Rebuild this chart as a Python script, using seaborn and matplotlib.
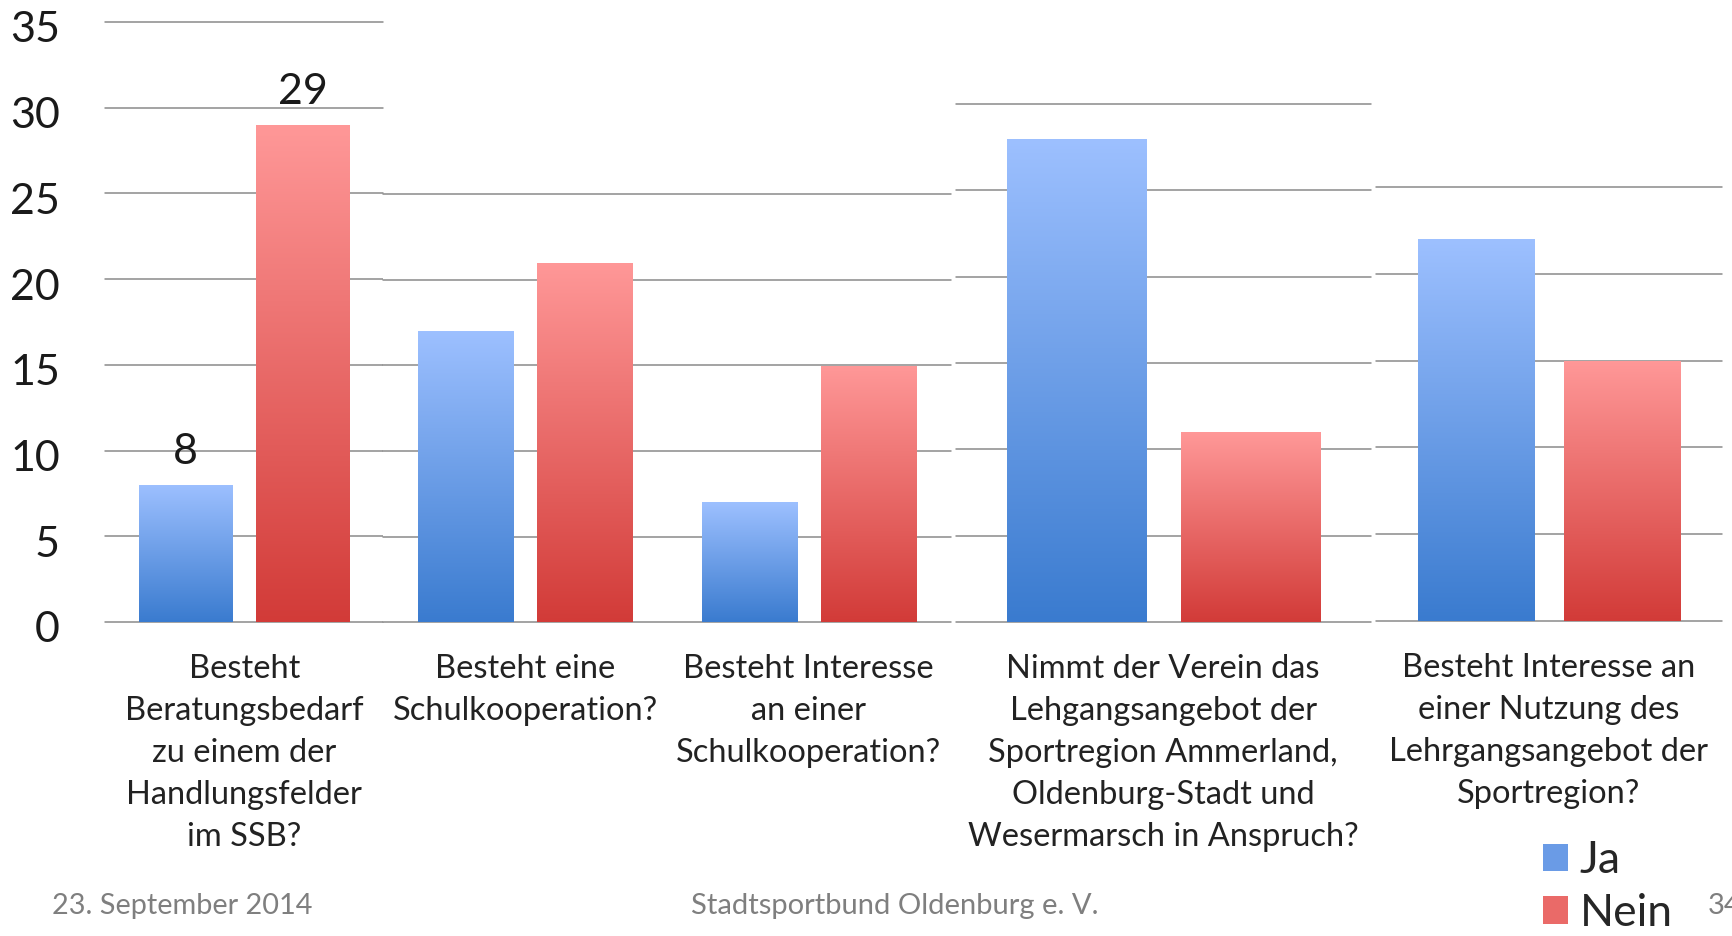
import numpy as np
import pandas as pd
import matplotlib
matplotlib.use("Agg")
import matplotlib.pyplot as plt
import matplotlib.transforms as mtrans
from matplotlib.colors import LinearSegmentedColormap
from matplotlib.patches import Patch
import seaborn as sns

fragen = [
    "Besteht\nBeratungsbedarf\nzu einem der\nHandlungsfelder\nim SSB?",
    "Besteht eine\nSchulkooperation?",
    "Besteht Interesse\nan einer\nSchulkooperation?",
    "Nimmt der Verein das\nLehgangsangebot der\nSportregion Ammerland,\nOldenburg-Stadt und\nWesermarsch in Anspruch?",
    "Besteht Interesse an\neiner Nutzung des\nLehrgangsangebot der\nSportregion?",
]
ja = [8, 17, 7, 28, 22]
nein = [29, 21, 15, 11, 15]
antworten = ["Ja", "Nein"]

# die Folie ist aus 4 Diagrammstuecken zusammengeklebt
panels = [[0], [1, 2], [3], [4]]
y_max = [35, 25, 30, 25]
mit_zahlen = [True, False, False, False]

df = pd.DataFrame({
    "frage": fragen * 2,
    "antwort": ["Ja"] * len(fragen) + ["Nein"] * len(fragen),
    "anzahl": ja + nein,
})

farben = {"Ja": "#6a9be6", "Nein": "#ea6a68"}
verlauf = {
    "Ja": LinearSegmentedColormap.from_list("ja", ["#3a7bcf", "#9dc0ff"]),
    "Nein": LinearSegmentedColormap.from_list("nein", ["#d23b38", "#ff9898"]),
}

sns.set_style("white")
plt.rcParams["font.family"] = ["Lato", "DejaVu Sans"]

W, H = 1733, 936
fig = plt.figure(figsize=(W / 100, H / 100), dpi=100)

# Pixelrahmen der einzelnen Stuecke (links, rechts, oben, unten)
rahmen = [(105, 383.5, 22, 622), (383.5, 950.5, 194.5, 622),
          (956, 1370.5, 104, 622), (1376, 1722, 187, 621)]

for i, idx in enumerate(panels):
    l, r, t, b = rahmen[i]
    ax = fig.add_axes([l / W, 1 - b / H, (r - l) / W, (b - t) / H])
    sub = df[df["frage"].isin([fragen[k] for k in idx])]
    sns.barplot(data=sub, x="frage", y="anzahl", hue="antwort",
                order=[fragen[k] for k in idx], hue_order=antworten,
                palette=farben, width=0.84, gap=0.2, errorbar=None,
                legend=False, ax=ax)
    ax.set_xlim(-0.5, len(idx) - 0.5)
    ax.set_ylim(0, y_max[i])
    ax.set_yticks(np.arange(0, y_max[i] + 1, 5))
    ax.grid(axis="y", color="#8a8a8a", lw=1.1)
    ax.set_axisbelow(True)
    for g in ax.get_ygridlines():
        g.set_clip_on(False)
    sns.despine(ax=ax, left=True, bottom=True)
    ax.set_xlabel("")
    ax.set_ylabel("")
    ax.tick_params(axis="x", length=0, pad=23, labelsize=23.5, labelcolor="#222222")
    for lab in ax.get_xticklabels():
        lab.set_linespacing(1.5)
    if i == 0:
        ax.tick_params(axis="y", length=0, pad=32.5, labelsize=31, labelcolor="#1a1a1a")
        schub = mtrans.ScaledTranslation(0, -5 / 100, fig.dpi_scale_trans)
        for lab in ax.get_yticklabels():
            lab.set_transform(lab.get_transform() + schub)
    else:
        ax.tick_params(axis="y", length=0, labelleft=False)

    # Farbverlauf in den Balken
    for k, cont in enumerate(ax.containers):
        cmap = verlauf[antworten[k]]
        for p in cont:
            x0, w, h = p.get_x(), p.get_width(), p.get_height()
            im = ax.imshow(np.linspace(1, 0, 256).reshape(-1, 1), cmap=cmap,
                           extent=[x0, x0 + w, 0, h], aspect="auto",
                           origin="upper", zorder=2)
            im.set_clip_path(p)
            p.set_facecolor("none")
            p.set_edgecolor("none")
        if mit_zahlen[i]:
            ax.bar_label(cont, fmt="%g", padding=10, fontsize=31, color="#1a1a1a")
    ax.set_xlim(-0.5, len(idx) - 0.5)
    ax.set_ylim(0, y_max[i])

# Legende
handles = [Patch(facecolor=farben[a], edgecolor="none") for a in antworten]
fig.legend(handles, antworten, loc="upper left",
           bbox_to_anchor=(1543 / W, 1 - 840 / H), frameon=False,
           fontsize=32, handlelength=0.57, handleheight=0.57,
           handletextpad=0.25, labelspacing=0.26, borderpad=0, borderaxespad=0)

# Fusszeile
fig.text(52 / W, 1 - 906 / H, "23. September 2014", fontsize=20.8,
         color="#7f7f7f", va="center", ha="left")
fig.text(895 / W, 1 - 906 / H, "Stadtsportbund Oldenburg e. V.", fontsize=21,
         color="#7f7f7f", va="center", ha="center")
fig.text(1708 / W, 1 - 906 / H, "34", fontsize=21,
         color="#7f7f7f", va="center", ha="left")

fig.savefig("out.png", dpi=100)
